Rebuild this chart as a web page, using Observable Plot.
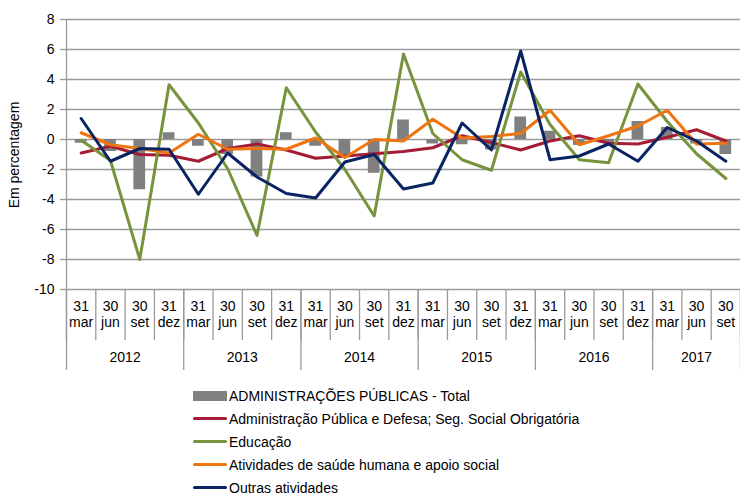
<!DOCTYPE html>
<html>
<head>
<meta charset="utf-8">
<script src="https://cdn.jsdelivr.net/npm/d3@7"></script>
<script src="https://cdn.jsdelivr.net/npm/@observablehq/plot@0.6"></script>
<style>
  body { margin: 0; background: #fff; font-family: "Liberation Sans", Arial, sans-serif; }
  #wrap { position: relative; width: 740px; }
  #ylab { position: absolute; left: 14px; top: 155px; transform: translate(-50%, -50%) rotate(-90deg); font-size: 14px; white-space: nowrap; color: #000; }
  #legend { margin-left: 193px; font-size: 14px; color: #000; }
  .row { height: 23px; display: flex; align-items: center; }
  .sw { width: 34px; margin-right: 2px; }
</style>
</head>
<body>
<div id="wrap">
  <div id="chart"></div>
  <div id="ylab">Em percentagem</div>
  <div id="legend"></div>
</div>
<script>
const quarterDays   = ["31","30","30","31","31","30","30","31","31","30","30","31","31","30","30","31","31","30","30","31","31","30","30"];
const quarterMonths = ["mar","jun","set","dez","mar","jun","set","dez","mar","jun","set","dez","mar","jun","set","dez","mar","jun","set","dez","mar","jun","set"];
const years = ["2012","2013","2014","2015","2016","2017"];
const yearQuarters = [4,4,4,4,4,3];
const yTicks = [-10,-8,-6,-4,-2,0,2,4,6,8];

const seriesNames = [
  "ADMINISTRAÇÕES PÚBLICAS - Total",
  "Administração Pública e Defesa; Seg. Social Obrigatória",
  "Educação",
  "Atividades de saúde humana e apoio social",
  "Outras atividades"
];
const seriesColors = ["#808080","#A51C36","#77933C","#EF7512","#0A2463"];

const total  = [-0.25,-0.8,-3.35,0.45,-0.45,-1.0,-2.5,0.45,-0.45,-1.2,-2.25,1.3,-0.3,-0.35,-0.7,1.5,0.55,-0.4,-0.2,1.2,0.8,-0.3,-1.0];
const adm    = [-0.9,-0.45,-1.0,-1.05,-1.45,-0.6,-0.3,-0.7,-1.25,-1.1,-0.95,-0.8,-0.55,0.25,-0.2,-0.7,-0.1,0.25,-0.25,-0.3,0.15,0.65,-0.1];
const edu    = [-0.05,-1.4,-8.0,3.65,1.1,-1.95,-6.4,3.45,0.5,-2.0,-5.1,5.7,0.4,-1.35,-2.05,4.5,1.0,-1.35,-1.55,3.7,1.2,-0.95,-2.6];
const saude  = [0.45,-0.35,-0.6,-0.9,0.35,-0.65,-0.6,-0.65,0.1,-1.2,0.0,-0.1,1.35,0.1,0.2,0.4,1.95,-0.35,0.25,0.9,1.95,-0.3,-0.25];
const outras = [1.4,-1.45,-0.6,-0.65,-3.65,-0.9,-2.5,-3.6,-3.9,-1.5,-1.0,-3.3,-2.9,1.1,-0.7,5.9,-1.35,-1.1,-0.3,-1.45,0.8,-0.1,-1.45];

const n = quarterDays.length;
const idx = d3.range(n);
const barData = idx.map(i => ({i, v: total[i]}));
const lineSeries = [adm, edu, saude, outras];
const lineData = lineSeries.map((arr, k) => idx.map(i => ({i, v: arr[i], s: seriesNames[k+1]})));

// separators
const quarterSeps = d3.range(n + 1).map(i => i - 0.5);
const yearBounds = [ -0.5 ];
yearQuarters.forEach(q => yearBounds.push(yearBounds[yearBounds.length-1] + q));
const yearCenters = years.map((y, k) => (yearBounds[k] + yearBounds[k+1]) / 2);

const grey = "#9a9a9a";
const chart = Plot.plot({
  width: 740,
  height: 384,
  marginTop: 19,
  marginBottom: 95,
  marginLeft: 66,
  marginRight: 0,
  style: {fontFamily: "Liberation Sans, Arial, sans-serif", fontSize: "14px", color: "#000"},
  x: {type: "linear", domain: [-0.5, n - 0.5], axis: null},
  y: {domain: [-10, 8], axis: null},
  marks: [
    Plot.gridY(yTicks, {stroke: grey, strokeOpacity: 1, strokeWidth: 1.3}),
    Plot.rectY(barData, {x1: d => d.i - 0.2, x2: d => d.i + 0.2, y: "v", fill: seriesColors[0]}),
    ...lineData.map((data, k) => Plot.line(data, {x: "i", y: "v", stroke: seriesColors[k+1], strokeWidth: 3, strokeLinejoin: "round", strokeLinecap: "round"})),
    Plot.ruleX([-0.5], {stroke: grey, strokeWidth: 1.3}),
    Plot.axisY(yTicks, {tickSize: 6, tickPadding: 6, stroke: grey, strokeWidth: 1.3, tickFormat: d => String(d), fontSize: 14, label: null}),
    Plot.axisX(quarterSeps, {tickSize: 51, stroke: grey, strokeWidth: 1.3, tickFormat: () => "", label: null}),
    Plot.axisX(yearBounds, {tickSize: 81, stroke: grey, strokeWidth: 1.3, tickFormat: () => "", label: null}),
    Plot.axisX(idx, {tickSize: 0, tickPadding: 12, tickFormat: i => quarterDays[i], fontSize: 14, label: null}),
    Plot.axisX(idx, {tickSize: 0, tickPadding: 28, tickFormat: i => quarterMonths[i], fontSize: 14, label: null}),
    Plot.axisX(yearCenters, {tickSize: 0, tickPadding: 63, tickFormat: (d, k) => years[k], fontSize: 14, label: null})
  ]
});
document.getElementById("chart").appendChild(chart);

const legend = document.getElementById("legend");
seriesNames.forEach((name, k) => {
  const row = document.createElement("div");
  row.className = "row";
  const sw = document.createElement("span");
  sw.className = "sw";
  sw.style.background = seriesColors[k];
  sw.style.height = k === 0 ? "10px" : "3px";
  if (k > 0) sw.style.borderRadius = "2px";
  row.appendChild(sw);
  const t = document.createElement("span");
  t.textContent = name;
  row.appendChild(t);
  legend.appendChild(row);
});
</script>
</body>
</html>
